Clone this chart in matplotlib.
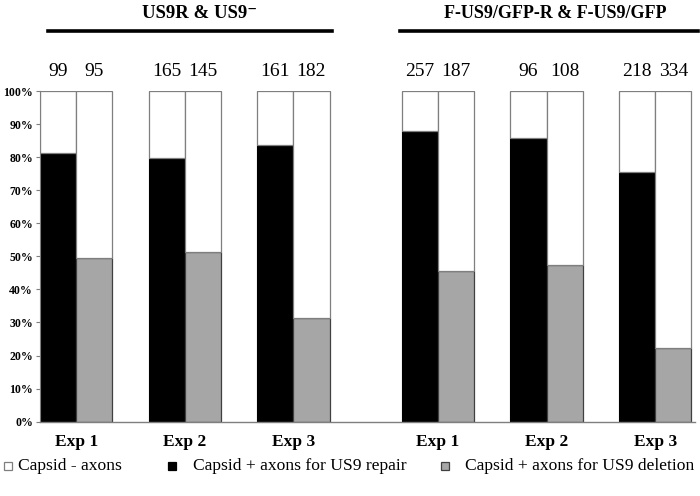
import matplotlib
matplotlib.use("Agg")
import matplotlib.pyplot as plt
from matplotlib.patches import Rectangle
from matplotlib.lines import Line2D
import matplotlib.transforms as mtransforms

# ---- data ----
exp_labels = ["Exp 1", "Exp 2", "Exp 3", "Exp 1", "Exp 2", "Exp 3"]
repair_pct = [81.2, 79.6, 83.6, 87.9, 85.8, 75.6]     # Capsid + axons for US9 repair (%)
deletion_pct = [49.6, 51.2, 31.4, 45.6, 47.4, 22.4]   # Capsid + axons for US9 deletion (%)
repair_n = [99, 165, 161, 257, 96, 218]
deletion_n = [95, 145, 182, 187, 108, 334]
group_titles = ["US9R & US9\u207b", "F-US9/GFP-R & F-US9/GFP"]
legend_labels = ["Capsid - axons", "Capsid + axons for US9 repair",
                 "Capsid + axons for US9 deletion"]
yticks = [0, 10, 20, 30, 40, 50, 60, 70, 80, 90, 100]

# ---- layout (slot units, one slot = one bar width) ----
pair_starts = [0, 3, 6, 10, 13, 16]

plt.rcParams['font.family'] = ['Liberation Serif', 'DejaVu Serif']
fig = plt.figure(figsize=(7.0, 4.96), dpi=100)
ax = fig.add_axes([40/700, 1 - 421.7/496, 655/700, 330.7/496])

edge = "#7f7f7f"
gray = "#a6a6a6"
rep_x = [s + 0.5 for s in pair_starts]
del_x = [s + 1.5 for s in pair_starts]

ax.bar(rep_x, repair_pct, width=1.0, color="black", edgecolor="black", linewidth=0.8, zorder=2)
ax.bar(rep_x, [100 - v for v in repair_pct], bottom=repair_pct, width=1.0,
       color="white", edgecolor=edge, linewidth=0.9, zorder=2)
ax.bar(del_x, deletion_pct, width=1.0, color=gray, edgecolor="#404040", linewidth=0.9, zorder=2)
ax.bar(del_x, [100 - v for v in deletion_pct], bottom=deletion_pct, width=1.0,
       color="white", edgecolor=edge, linewidth=0.9, zorder=2)

ax.set_xlim(0, 18.1)
ax.set_ylim(0, 100)
ax.set_yticks(yticks)
ax.set_yticklabels([f"{t}%" for t in yticks], fontsize=8.5, fontweight="bold")
ax.tick_params(axis="y", length=3, width=0.8, color=edge, pad=2)
ax.set_xticks([s + 1 for s in pair_starts])
ax.set_xticklabels(exp_labels, fontsize=12.5, fontweight="bold")
ax.tick_params(axis="x", length=0, pad=9)
for sp in ["top", "right"]:
    ax.spines[sp].set_visible(False)
ax.spines["left"].set_color(edge)
ax.spines["bottom"].set_color(edge)
ax.spines["left"].set_linewidth(0.8)
ax.spines["bottom"].set_linewidth(1.0)

# counts above bars
trans = mtransforms.blended_transform_factory(ax.transData, ax.transAxes)
for x, n in zip(rep_x, repair_n):
    ax.text(x, 1.045, str(n), transform=trans, ha="center", va="baseline", fontsize=14)
for x, n in zip(del_x, deletion_n):
    ax.text(x, 1.045, str(n), transform=trans, ha="center", va="baseline", fontsize=14)

# group titles and lines
fig.text(200/700, 1 - 13/496, group_titles[0], ha="center", va="center",
         fontsize=13.5, fontweight="bold")
fig.text(555/700, 1 - 13/496, group_titles[1], ha="center", va="center",
         fontsize=13, fontweight="bold")
fig.add_artist(Line2D([48/700, 332/700], [1 - 30.7/496, 1 - 30.7/496],
                      color="black", linewidth=2.6, transform=fig.transFigure))
fig.add_artist(Line2D([400/700, 698/700], [1 - 30.7/496, 1 - 30.7/496],
                      color="black", linewidth=2.6, transform=fig.transFigure))

# legend (manual)
leg_y = 1 - 466/496
marker_x = [4, 168, 441]
text_x = [18, 193, 465]
fills = ["white", "black", gray]
edges = [edge, "black", "#404040"]
for mx, tx, fc, ec, lab in zip(marker_x, text_x, fills, edges, legend_labels):
    fig.add_artist(Rectangle((mx/700, leg_y - 4/496), 8/700, 8/496, facecolor=fc,
                             edgecolor=ec, linewidth=0.9, transform=fig.transFigure))
    fig.text(tx/700, leg_y, lab, ha="left", va="center", fontsize=12.6)

fig.savefig("out.png", dpi=100, facecolor="white")
